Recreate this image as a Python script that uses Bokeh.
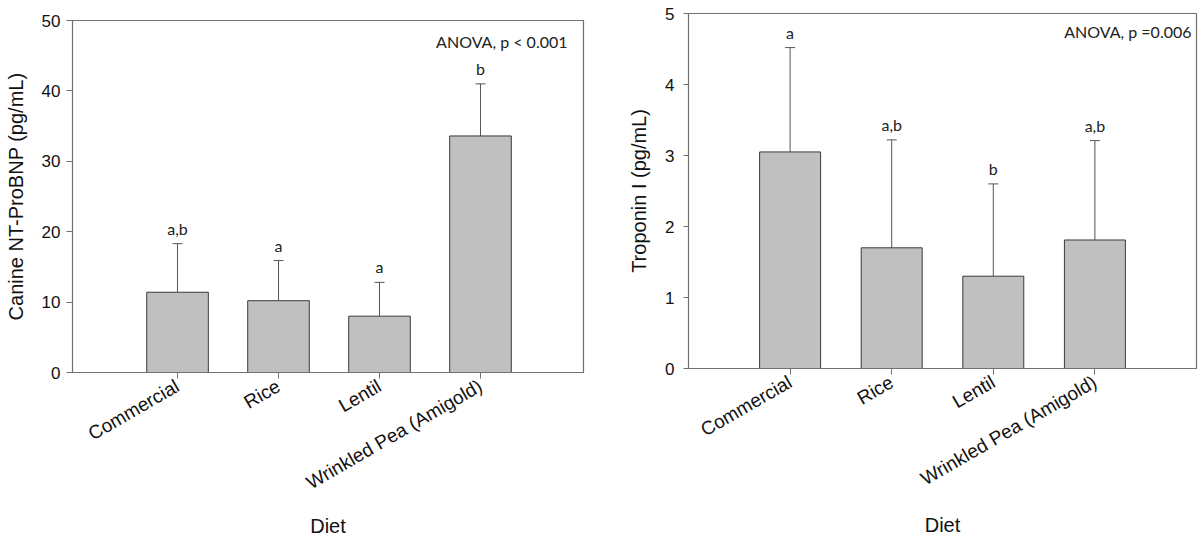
import math
from bokeh.plotting import figure
from bokeh.models import ColumnDataSource, Whisker, Label, FixedTicker
from bokeh.layouts import row
from bokeh.core.properties import value
from bokeh.embed import file_html
from bokeh.resources import INLINE

diets = ["Commercial", "Rice", "Lentil", "Wrinkled Pea (Amigold)"]
positions = [1, 2, 3, 4]

bnp_mean = [11.4, 10.2, 8.0, 33.6]
bnp_upper = [18.3, 15.9, 12.8, 41.0]
bnp_letters = ["a,b", "a", "a", "b"]
bnp_anova = "ANOVA, p < 0.001"

trop_mean = [3.05, 1.70, 1.30, 1.81]
trop_upper = [4.52, 3.22, 2.60, 3.21]
trop_letters = ["a", "a,b", "b", "a,b"]
trop_anova = "ANOVA, p =0.006"

AX_FONT = "Liberation Sans"
ANN_FONT = "Lato"


def make(mean, upper, letters, anova, ylabel, ymax, xr, width, borders,
         anova_dx, anova_dy, tick_out, tick_standoff, bar_w, diet_standoff):
    src = ColumnDataSource(dict(x=positions, top=mean, upper=upper, letters=letters))
    p = figure(width=width, height=540, x_range=xr, y_range=(0, ymax),
               output_backend="svg", toolbar_location=None,
               min_border_left=borders[0], min_border_right=borders[1],
               min_border_top=borders[2], min_border_bottom=borders[3])
    p.frame_align = False
    p.xgrid.visible = False
    p.ygrid.visible = False
    p.outline_line_color = "#707070"
    p.outline_line_width = 1.2
    p.background_fill_color = "white"
    p.border_fill_color = "white"

    p.vbar(x="x", top="top", bottom=0, width=bar_w, source=src,
           fill_color="#c0c0c0", line_color="#3a3a3a", line_width=1)
    wh = Whisker(source=src, base="x", lower="top", upper="upper",
                 line_color="#555555", line_width=1)
    wh.lower_head = None
    wh.upper_head.size = 10
    wh.upper_head.line_color = "#555555"
    p.add_layout(wh)

    p.text(x="x", y="upper", text="letters", source=src, y_offset=-6,
           text_align="center", text_baseline="bottom",
           text_font=value(ANN_FONT), text_font_size="16px", text_color="#222222")

    p.add_layout(Label(x=xr[1], y=ymax, text=anova, x_offset=anova_dx, y_offset=anova_dy,
                       text_align="right", text_baseline="middle",
                       text_font=ANN_FONT, text_font_size="16px", text_color="#222222"))

    xa = p.xaxis[0]
    xa.ticker = FixedTicker(ticks=positions)
    xa.major_label_overrides = {pos: d for pos, d in zip(positions, diets)}
    xa.major_label_orientation = math.pi / 6
    xa.major_label_text_font = AX_FONT
    xa.major_label_text_font_size = "19px"
    xa.major_label_text_color = "#111111"
    xa.major_label_standoff = 6
    xa.major_tick_out = 6
    xa.major_tick_in = 0
    xa.minor_tick_line_color = None
    xa.axis_line_color = "#707070"
    xa.major_tick_line_color = "#707070"
    xa.axis_label = "Diet"
    xa.axis_label_text_font = AX_FONT
    xa.axis_label_text_font_style = "normal"
    xa.axis_label_text_font_size = "20px"
    xa.axis_label_text_color = "#111111"
    xa.axis_label_standoff = diet_standoff

    ya = p.yaxis[0]
    ya.ticker = FixedTicker(ticks=list(range(0, ymax + 1, ymax // 5)))
    ya.major_label_text_font = AX_FONT
    ya.major_label_text_font_size = "17px"
    ya.major_label_text_color = "#111111"
    ya.major_label_standoff = tick_standoff
    ya.major_tick_out = tick_out
    ya.major_tick_in = 0
    ya.minor_tick_line_color = None
    ya.axis_line_color = "#707070"
    ya.major_tick_line_color = "#707070"
    ya.axis_label = ylabel
    ya.axis_label_text_font = AX_FONT
    ya.axis_label_text_font_style = "normal"
    ya.axis_label_text_font_size = "20px"
    ya.axis_label_text_color = "#111111"
    ya.axis_label_standoff = 12
    return p


p1 = make(bnp_mean, bnp_upper, bnp_letters, bnp_anova, "Canine NT-ProBNP (pg/mL)", 50,
          (-0.04, 5.02), 600, (72, 17, 20, 167), -16, -21, 6, 6, 0.61, 10)
p2 = make(trop_mean, trop_upper, trop_letters, trop_anova, "Troponin I (pg/mL)", 5,
          (0.0, 5.0), 598, (88, 2, 13, 172), -5, -18, 5, 9, 0.6, 13)

layout = row(p1, p2, spacing=0)
open("out.html", "w").write(file_html(layout, INLINE))
